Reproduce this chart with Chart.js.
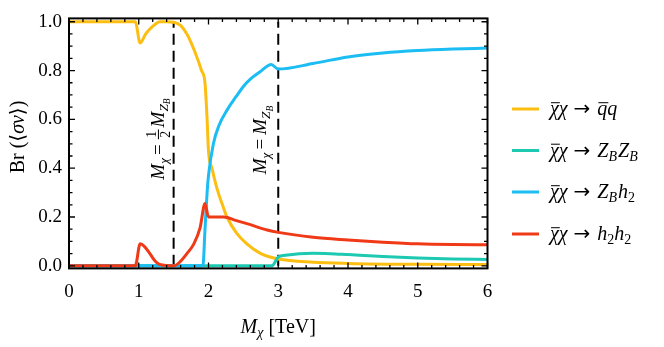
<!DOCTYPE html>
<html>
<head>
<meta charset="utf-8">
<script src="https://cdn.jsdelivr.net/npm/chart.js@4.4.1/dist/chart.umd.min.js"></script>
<style>
  html, body { margin: 0; padding: 0; background: #fff; }
  #wrap { width: 664px; height: 347px; }
</style>
</head>
<body>
<div id="wrap"><canvas id="brChart" width="664" height="347"></canvas></div>
<script>
// values
const xTicks = [0, 1, 2, 3, 4, 5, 6];
const yTicks = [0, 0.2, 0.4, 0.6, 0.8, 1.0];

const qqX = [0, 0.5, 0.95, 1.02, 1.1, 1.16, 1.25, 1.3, 1.4, 1.5, 1.6, 1.7, 1.8, 1.9, 1.95, 1.98, 2.0, 2.05, 2.12, 2.2, 2.27, 2.4, 2.55, 2.75, 3.0, 3.5, 4, 5, 6];
const qqY = [1, 1, 1, 0.913, 0.95, 0.97, 0.993, 1.0, 1.0, 0.998, 0.985, 0.945, 0.88, 0.8, 0.748, 0.6, 0.47, 0.4, 0.318, 0.25, 0.197, 0.135, 0.09, 0.05, 0.028, 0.015, 0.01, 0.006, 0.005];

const zzX = [0, 2.91, 3.0, 3.1, 3.3, 3.5, 3.75, 4, 4.5, 5, 5.5, 6];
const zzY = [0, 0, 0.036, 0.043, 0.05, 0.052, 0.05, 0.046, 0.038, 0.032, 0.028, 0.026];

const zhX = [0, 1.92, 1.95, 1.98, 2.0, 2.07, 2.15, 2.27, 2.4, 2.5, 2.6, 2.74, 2.9, 3.0, 3.5, 4, 4.5, 5, 5.5, 6];
const zhY = [0, 0, 0.15, 0.3, 0.37, 0.5, 0.575, 0.64, 0.695, 0.735, 0.765, 0.795, 0.825, 0.806, 0.829, 0.856, 0.872, 0.882, 0.888, 0.892];

const hhX = [0, 0.95, 1.02, 1.08, 1.16, 1.22, 1.3, 1.5, 1.59, 1.69, 1.79, 1.88, 1.95, 2.0, 2.1, 2.22, 2.4, 2.55, 2.84, 3.0, 3.5, 4, 4.5, 5, 5.5, 6];
const hhY = [0, 0, 0.09, 0.08, 0.05, 0.025, 0.006, 0, 0.016, 0.05, 0.09, 0.157, 0.255, 0.2, 0.2, 0.2, 0.185, 0.173, 0.147, 0.137, 0.117, 0.106, 0.097, 0.09, 0.087, 0.086];

const markX = [1.5, 3.0];

const FONT = '"Liberation Serif", "DejaVu Serif", serif';
const SYM = '"DejaVu Sans", sans-serif';

function pts(xs, ys) {
    return xs.map((x, i) => ({ x: x, y: ys[i] }));
}

function fnt(p, s) {
    return (p.it ? "italic " : "") + s + "px " + (p.sym ? SYM : FONT);
}

// tiny math-ish text: italic, subscripts (and sub-subscripts), overlines, a stacked fraction
function drawRich(ctx, parts, x, y, size, align) {
    const items = [];
    let w = 0;
    for (const p of parts) {
        if (p.frac) {
            const fs = size * 0.72;
            ctx.font = fnt({}, fs);
            const fw = Math.max(ctx.measureText(p.frac[0]).width, ctx.measureText(p.frac[1]).width) + 3;
            items.push({ p, x: w + 1, w: fw, s: fs });
            w += fw + 3;
            continue;
        }
        const s = p.ss ? size * 0.5 : (p.sub ? size * 0.7 : size * (p.scale || 1));
        ctx.font = fnt(p, s);
        const tw = ctx.measureText(p.t).width;
        items.push({ p, x: w + (p.pre || 0), w: tw, s });
        w += tw + (p.pre || 0) + (p.post || 0);
    }
    const x0 = align === "center" ? x - w / 2 : x;
    ctx.textAlign = "left";
    ctx.textBaseline = "alphabetic";
    ctx.fillStyle = "#000";
    for (const it of items) {
        const p = it.p;
        if (p.frac) {
            ctx.font = fnt({}, it.s);
            ctx.textAlign = "center";
            const cx = x0 + it.x + it.w / 2;
            ctx.fillText(p.frac[0], cx, y - size * 0.4);
            ctx.fillText(p.frac[1], cx, y + size * 0.36);
            ctx.fillRect(x0 + it.x, y - size * 0.3, it.w, 1);
            ctx.textAlign = "left";
            continue;
        }
        ctx.font = fnt(p, it.s);
        const dy = p.ss ? size * 0.36 : (p.sub ? size * 0.22 : (p.dy || 0));
        ctx.fillText(p.t, x0 + it.x, y + dy);
        if (p.over) ctx.fillRect(x0 + it.x + 1, y - size * 0.64, it.w, 1);
    }
}

const colors = ["#FDBE12", "#1DC9B1", "#1BBDF3", "#F03A17"];
const arrow = { t: "→", sym: true, scale: 1.0, pre: 6, post: 7 };
const legendParts = [
    [{ t: "χ", it: true, over: true }, { t: "χ", it: true }, arrow, { t: "q", it: true, over: true }, { t: "q", it: true }],
    [{ t: "χ", it: true, over: true }, { t: "χ", it: true }, arrow, { t: "Z", it: true }, { t: "B", it: true, sub: true, post: 1 }, { t: "Z", it: true }, { t: "B", it: true, sub: true }],
    [{ t: "χ", it: true, over: true }, { t: "χ", it: true }, arrow, { t: "Z", it: true }, { t: "B", it: true, sub: true, post: 1 }, { t: "h", it: true }, { t: "2", sub: true }],
    [{ t: "χ", it: true, over: true }, { t: "χ", it: true }, arrow, { t: "h", it: true }, { t: "2", sub: true }, { t: "h", it: true }, { t: "2", sub: true }]
];

const decorPlugin = {
    id: "decor",
    afterDraw(chart) {
        const ctx = chart.ctx;
        const a = chart.chartArea;
        const xs = chart.scales.x, ys = chart.scales.y;
        ctx.save();

        // frame
        ctx.strokeStyle = "#000";
        ctx.lineWidth = 2;
        ctx.strokeRect(a.left, a.top, a.right - a.left, a.bottom - a.top);

        // inward ticks
        ctx.lineWidth = 1.3;
        ctx.beginPath();
        for (let i = 0; i <= 30; i++) {
            const v = i * 0.2;
            const len = i % 5 === 0 ? 6 : 3.5;
            const px = xs.getPixelForValue(v);
            ctx.moveTo(px, a.bottom); ctx.lineTo(px, a.bottom - len);
            ctx.moveTo(px, a.top); ctx.lineTo(px, a.top + len);
        }
        for (let i = 0; i <= 20; i++) {
            const v = i * 0.05;
            const len = i % 4 === 0 ? 6 : 3.5;
            const py = ys.getPixelForValue(v);
            ctx.moveTo(a.left, py); ctx.lineTo(a.left + len, py);
            ctx.moveTo(a.right, py); ctx.lineTo(a.right - len, py);
        }
        ctx.stroke();

        // rotated annotations by the dashed lines
        const eq = { t: "=", pre: 3, post: 4 };
        const lab1 = [{ t: "M", it: true }, { t: "χ", it: true, sub: true }, eq, { frac: ["1", "2"] },
                      { t: "M", it: true }, { t: "Z", it: true, sub: true }, { t: "B", it: true, ss: true }];
        const lab2 = [{ t: "M", it: true }, { t: "χ", it: true, sub: true }, eq,
                      { t: "M", it: true }, { t: "Z", it: true, sub: true }, { t: "B", it: true, ss: true }];
        ctx.save();
        ctx.translate(xs.getPixelForValue(markX[0]) - 10, 139);
        ctx.rotate(-Math.PI / 2);
        drawRich(ctx, lab1, 0, 0, 19, "center");
        ctx.restore();
        ctx.save();
        ctx.translate(xs.getPixelForValue(markX[1]) - 12, 140);
        ctx.rotate(-Math.PI / 2);
        drawRich(ctx, lab2, 0, 0, 19, "center");
        ctx.restore();

        // axis titles
        drawRich(ctx, [{ t: "M", it: true }, { t: "χ", it: true, sub: true, post: 5 }, { t: "[TeV]" }],
                 (a.left + a.right) / 2, 333, 20, "center");
        ctx.save();
        ctx.translate(24, 137);
        ctx.rotate(-Math.PI / 2);
        drawRich(ctx, [{ t: "Br", post: 5 }, { t: "(" }, { t: "⟨", sym: true }, { t: "σv", it: true }, { t: "⟩", sym: true }, { t: ")" }], 0, 0, 20, "center");
        ctx.restore();

        // legend
        const rows = [109, 150.5, 192, 234];
        rows.forEach((ry, i) => {
            ctx.strokeStyle = colors[i];
            ctx.lineWidth = 3;
            ctx.beginPath();
            ctx.moveTo(512, ry); ctx.lineTo(539, ry);
            ctx.stroke();
            drawRich(ctx, legendParts[i], 550, ry + 6, 20, "left");
        });

        ctx.restore();
    }
};

function lineSet(label, xs, ys, color, order) {
    return {
        label: label,
        data: pts(xs, ys),
        borderColor: color,
        borderWidth: 3,
        pointRadius: 0,
        fill: false,
        cubicInterpolationMode: "monotone",
        order: order
    };
}

const dashSets = markX.map(m => ({
    label: "mark",
    data: [{ x: m, y: 0 }, { x: m, y: 1 }],
    borderColor: "#000",
    borderWidth: 2,
    borderDash: [11, 6],
    pointRadius: 0,
    order: 10
}));

new Chart(document.getElementById("brChart").getContext("2d"), {
    type: "line",
    data: {
        datasets: [
            lineSet("qq", qqX, qqY, colors[0], 4),
            lineSet("ZBZB", zzX, zzY, colors[1], 3),
            lineSet("ZBh2", zhX, zhY, colors[2], 2),
            lineSet("h2h2", hhX, hhY, colors[3], 1),
            ...dashSets
        ]
    },
    options: {
        responsive: false,
        animation: false,
        layout: { padding: { left: 0, right: 176.5, top: 13.3, bottom: 0 } },
        plugins: {
            legend: { display: false },
            tooltip: { enabled: false }
        },
        scales: {
            x: {
                type: "linear",
                min: 0,
                max: 6,
                grid: { display: false, drawTicks: false },
                border: { display: false },
                afterBuildTicks: s => { s.ticks = xTicks.map(v => ({ value: v })); },
                afterFit: s => { s.height = 347 - 268.4; },
                ticks: {
                    color: "#000",
                    padding: 12,
                    font: { family: FONT, size: 19 },
                    callback: v => String(v)
                }
            },
            y: {
                type: "linear",
                min: -0.0105,
                max: 1.0137,
                grid: { display: false, drawTicks: false },
                border: { display: false },
                afterBuildTicks: s => { s.ticks = yTicks.map(v => ({ value: v })); },
                afterFit: s => { s.width = 69; },
                ticks: {
                    color: "#000",
                    padding: 7,
                    font: { family: FONT, size: 19 },
                    callback: v => v.toFixed(1)
                }
            }
        }
    },
    plugins: [decorPlugin]
});
</script>
</body>
</html>
